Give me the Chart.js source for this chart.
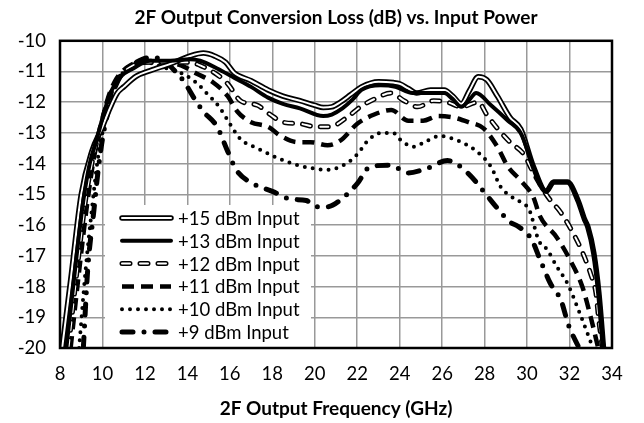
<!DOCTYPE html>
<html>
<head>
<meta charset="utf-8">
<script src="https://cdn.jsdelivr.net/npm/chart.js@4.4.1/dist/chart.umd.min.js"></script>
<style>
html, body { margin: 0; padding: 0; background: #fff; }
#wrap { width: 644px; height: 423px; }
</style>
</head>
<body>
<div id="wrap"><canvas id="myChart" width="644" height="423"></canvas></div>
<script>
// tick labels
var xTicks = [8, 10, 12, 14, 16, 18, 20, 22, 24, 26, 28, 30, 32, 34];
var yTicks = [-20, -19, -18, -17, -16, -15, -14, -13, -12, -11, -10];

var seriesNames = ['+15 dBm Input', '+13 dBm Input', '+12 dBm Input', '+11 dBm Input', '+10 dBm Input', '+9 dBm Input'];

// frequency (GHz) / loss (dB)
var freq15 = [8.1, 8.5, 9.0, 9.5, 10.0, 10.35, 10.7, 11.0, 11.6, 12.25, 13.2, 14.1, 14.75, 15.3, 15.8, 16.2, 17.0, 17.8, 18.5, 19.3, 20.0, 20.4, 20.8, 21.2, 21.7, 22.2, 23.0, 23.7, 24.0, 24.4, 24.8, 25.45, 26.1, 26.5, 26.9, 27.3, 27.7, 28.1, 28.6, 29.2, 29.7, 30.3, 30.9, 31.25, 31.9, 32.4, 32.7, 32.86, 33.14, 33.38, 33.6];
var loss15 = [-20, -17.8, -15.0, -13.6, -12.8, -12.2, -11.7, -11.5, -11.15, -10.97, -10.75, -10.5, -10.4, -10.5, -10.7, -11.04, -11.3, -11.6, -11.8, -11.95, -12.1, -12.17, -12.15, -12.0, -11.75, -11.5, -11.33, -11.36, -11.4, -11.55, -11.7, -11.6, -11.6, -11.8, -12.05, -11.6, -11.17, -11.27, -11.8, -12.5, -12.87, -14.1, -14.9, -14.6, -14.6, -15.2, -15.8, -16.05, -16.9, -18.2, -20];

var freq13 = [8.3, 8.7, 9.1, 9.4, 9.75, 10.05, 10.35, 10.8, 11.45, 12.25, 13.2, 14.1, 14.6, 15.4, 16.2, 17.0, 17.8, 18.5, 19.3, 20.4, 20.8, 21.3, 21.8, 22.2, 23.1, 23.8, 24.6, 25.45, 26.1, 26.5, 26.9, 27.3, 27.6, 28.3, 29.1, 29.7, 30.3, 30.9, 31.25, 31.9, 32.4, 32.7, 32.86, 33.14, 33.38, 33.6];
var loss13 = [-20, -17.5, -15.2, -14.0, -13.15, -12.4, -11.75, -11.2, -10.9, -10.65, -10.65, -10.6, -10.65, -10.9, -11.2, -11.5, -11.85, -12.05, -12.2, -12.45, -12.4, -12.2, -11.9, -11.6, -11.45, -11.5, -11.7, -11.7, -11.7, -11.9, -12.15, -11.9, -11.7, -12.1, -12.6, -13.0, -14.1, -14.9, -14.6, -14.6, -15.2, -15.8, -16.05, -16.9, -18.2, -20];

var freq12 = [8.4, 8.8, 9.2, 9.5, 9.8, 10.1, 10.4, 10.9, 11.45, 12.3, 13.2, 14.1, 14.6, 15.4, 15.9, 16.5, 17.3, 17.9, 18.5, 19.3, 20.1, 20.7, 21.5, 22.15, 22.8, 23.6, 24.2, 24.85, 25.6, 26.25, 26.9, 27.7, 28.1, 28.6, 29.2, 29.85, 30.3, 31.0, 31.6, 32.2, 32.62, 33.0, 33.24, 33.38, 33.55];
var loss12 = [-20, -17.5, -15.2, -14.0, -13.1, -12.3, -11.7, -11.1, -10.8, -10.7, -10.7, -10.7, -10.8, -11.1, -11.4, -11.95, -12.1, -12.4, -12.65, -12.7, -12.8, -12.8, -12.5, -12.15, -11.9, -11.7, -11.95, -12.15, -11.95, -12.0, -12.15, -12.0, -12.4, -12.85, -13.3, -13.7, -14.3, -15.1, -15.6, -16.3, -16.9, -17.6, -18.2, -19.1, -20];

var freq11 = [8.5, 8.9, 9.3, 9.6, 9.9, 10.2, 10.6, 11.2, 12.0, 13.0, 13.7, 14.45, 15.2, 15.9, 16.35, 17.0, 17.8, 18.4, 19.2, 19.8, 20.6, 21.2, 22.0, 22.8, 23.6, 24.4, 25.1, 25.8, 26.55, 27.25, 27.95, 28.6, 29.1, 29.7, 30.3, 30.6, 31.4, 32.0, 32.6, 33.0, 33.35];
var loss11 = [-20, -17.5, -15.2, -13.8, -12.9, -12.0, -11.3, -10.85, -10.65, -10.7, -10.8, -11.07, -11.35, -11.8, -12.3, -12.65, -12.8, -13.1, -13.3, -13.3, -13.4, -13.25, -12.7, -12.4, -12.25, -12.6, -12.6, -12.45, -12.5, -12.65, -12.85, -13.45, -14.1, -14.55, -15.1, -15.7, -16.4, -17.1, -18.0, -19.0, -20];

var freq10 = [8.9, 9.2, 9.5, 9.75, 10.0, 10.3, 10.7, 11.2, 12.0, 12.8, 13.7, 14.4, 14.9, 15.5, 16.0, 16.5, 17.3, 18.2, 19.2, 19.9, 20.6, 21.35, 22.0, 22.5, 23.1, 23.7, 24.0, 24.65, 25.3, 25.9, 26.55, 27.2, 27.8, 28.3, 28.75, 29.1, 29.7, 30.1, 30.55, 30.95, 31.4, 31.9, 32.5, 33.1];
var loss10 = [-20, -17.5, -15.5, -14.0, -13.0, -12.0, -11.3, -10.9, -10.7, -10.85, -11.05, -11.35, -11.7, -12.15, -12.7, -13.2, -13.5, -13.8, -14.05, -14.15, -14.2, -14.05, -13.7, -13.25, -13.0, -13.0, -13.2, -13.45, -13.25, -13.1, -13.2, -13.4, -13.7, -14.1, -14.75, -15.0, -15.25, -15.5, -16.5, -16.8, -17.35, -17.9, -18.9, -20];

var freq9 = [9.1, 9.3, 9.6, 9.8, 10.0, 10.3, 10.6, 11.0, 11.6, 12.2, 12.8, 13.3, 13.7, 14.0, 14.3, 14.75, 15.4, 15.9, 16.3, 17.1, 18.0, 18.85, 19.6, 20.1, 20.6, 21.35, 22.0, 22.6, 23.55, 24.4, 25.3, 26.25, 27.2, 27.95, 28.6, 29.2, 29.6, 30.2, 30.6, 31.1, 31.6, 31.95, 32.45];
var loss9 = [-20, -17.5, -15.5, -14.2, -13.2, -12.2, -11.5, -11.0, -10.7, -10.55, -10.6, -10.9, -11.2, -11.5, -11.85, -12.3, -12.8, -13.6, -14.2, -14.65, -14.9, -15.15, -15.2, -15.4, -15.4, -15.1, -14.65, -14.1, -14.05, -14.3, -14.15, -13.9, -14.3, -14.9, -15.45, -15.9, -16.05, -16.45, -17.1, -17.9, -18.45, -19.25, -20];

var FONT = 'Lato, "Open Sans", sans-serif';
var FSIZE = 18.5;

function pts(xs, ys) {
    return xs.map(function(x, i) { return {x: x, y: ys[i]}; });
}

function line(name, xs, ys, color, width, dash, cap, order) {
    return {
        label: name,
        group: name,
        data: pts(xs, ys),
        borderColor: color,
        borderWidth: width,
        borderDash: dash,
        borderCapStyle: cap,
        borderJoinStyle: 'round',
        cubicInterpolationMode: 'monotone',
        pointRadius: 0,
        fill: false,
        order: order
    };
}

var datasets = [
    line(seriesNames[1], freq13, loss13, '#000', 4, [], 'round', 0),
    line(seriesNames[0], freq15, loss15, '#000', 5.5, [], 'round', 2),
    line(seriesNames[0], freq15, loss15, '#fff', 2, [], 'round', 1),
    line(seriesNames[2], freq12, loss12, '#000', 5, [8, 10], 'round', 4),
    line(seriesNames[2], freq12, loss12, '#fff', 2, [8, 10], 'round', 3),
    line(seriesNames[3], freq11, loss11, '#000', 4.5, [12, 7], 'butt', 5),
    line(seriesNames[4], freq10, loss10, '#000', 4, [0, 8], 'round', 6),
    line(seriesNames[5], freq9, loss9, '#000', 5, [11, 11, 0, 11], 'round', 7)
];

// legend box in lower-left of the plot + frame
var boxLegend = {
    id: 'boxLegend',
    afterDraw: function(chart) {
        var ctx = chart.ctx, a = chart.chartArea;
        var x0 = a.left + 45, y0 = a.bottom - 143;
        ctx.save();
        ctx.fillStyle = '#fff';
        ctx.fillRect(x0, y0, 206, 143);
        ctx.font = FSIZE + 'px ' + FONT;
        ctx.textBaseline = 'middle';
        seriesNames.forEach(function(name, i) {
            var y = y0 + 13 + i * 22.8;
            chart.data.datasets.forEach(function(ds) {
                if (ds.group !== name) return;
                ctx.beginPath();
                ctx.strokeStyle = ds.borderColor;
                ctx.lineWidth = ds.borderWidth;
                ctx.setLineDash(ds.borderDash);
                ctx.lineCap = ds.borderCapStyle;
                ctx.moveTo(x0 + 17, y);
                ctx.lineTo(x0 + 66, y);
                ctx.stroke();
            });
            ctx.setLineDash([]);
            ctx.fillStyle = '#000';
            ctx.fillText(name, x0 + 73, y + 1);
        });
        ctx.setLineDash([]);
        ctx.strokeStyle = '#000';
        ctx.lineWidth = 2.5;
        ctx.strokeRect(a.left, a.top, a.right - a.left, a.bottom - a.top);
        ctx.restore();
    }
};

var ctx = document.getElementById('myChart').getContext('2d');
var myChart = new Chart(ctx, {
    type: 'line',
    data: { datasets: datasets },
    plugins: [boxLegend],
    options: {
        responsive: false,
        animation: false,
        devicePixelRatio: 1,
        layout: { padding: { left: 0, right: 32, top: 0, bottom: 3 } },
        plugins: {
            legend: { display: false },
            tooltip: { enabled: false },
            title: {
                display: true,
                fullSize: false,
                text: '2F Output Conversion Loss (dB) vs. Input Power',
                color: '#000',
                font: { family: FONT, size: 19, weight: 'bold' },
                padding: { top: 6, bottom: 12 }
            }
        },
        scales: {
            x: {
                type: 'linear',
                min: 8,
                max: 34,
                afterFit: function(s) { s.height = 72; },
                afterBuildTicks: function(s) { s.ticks = xTicks.map(function(v) { return {value: v}; }); },
                grid: { color: '#999', lineWidth: 1.5, drawTicks: false },
                border: { display: false },
                ticks: { color: '#000', font: { family: FONT, size: FSIZE }, padding: 15, maxRotation: 0 },
                title: {
                    display: true,
                    text: '2F Output Frequency (GHz)',
                    color: '#000',
                    font: { family: FONT, size: 19, weight: 'bold' },
                    padding: { top: 0, bottom: 0 }
                }
            },
            y: {
                type: 'linear',
                min: -20,
                max: -10,
                afterFit: function(s) { s.width = 60; },
                afterBuildTicks: function(s) { s.ticks = yTicks.map(function(v) { return {value: v}; }); },
                grid: { color: '#999', lineWidth: 1.5, drawTicks: false },
                border: { display: false },
                ticks: { color: '#000', font: { family: FONT, size: FSIZE }, padding: 14 }
            }
        }
    }
});
</script>
</body>
</html>
